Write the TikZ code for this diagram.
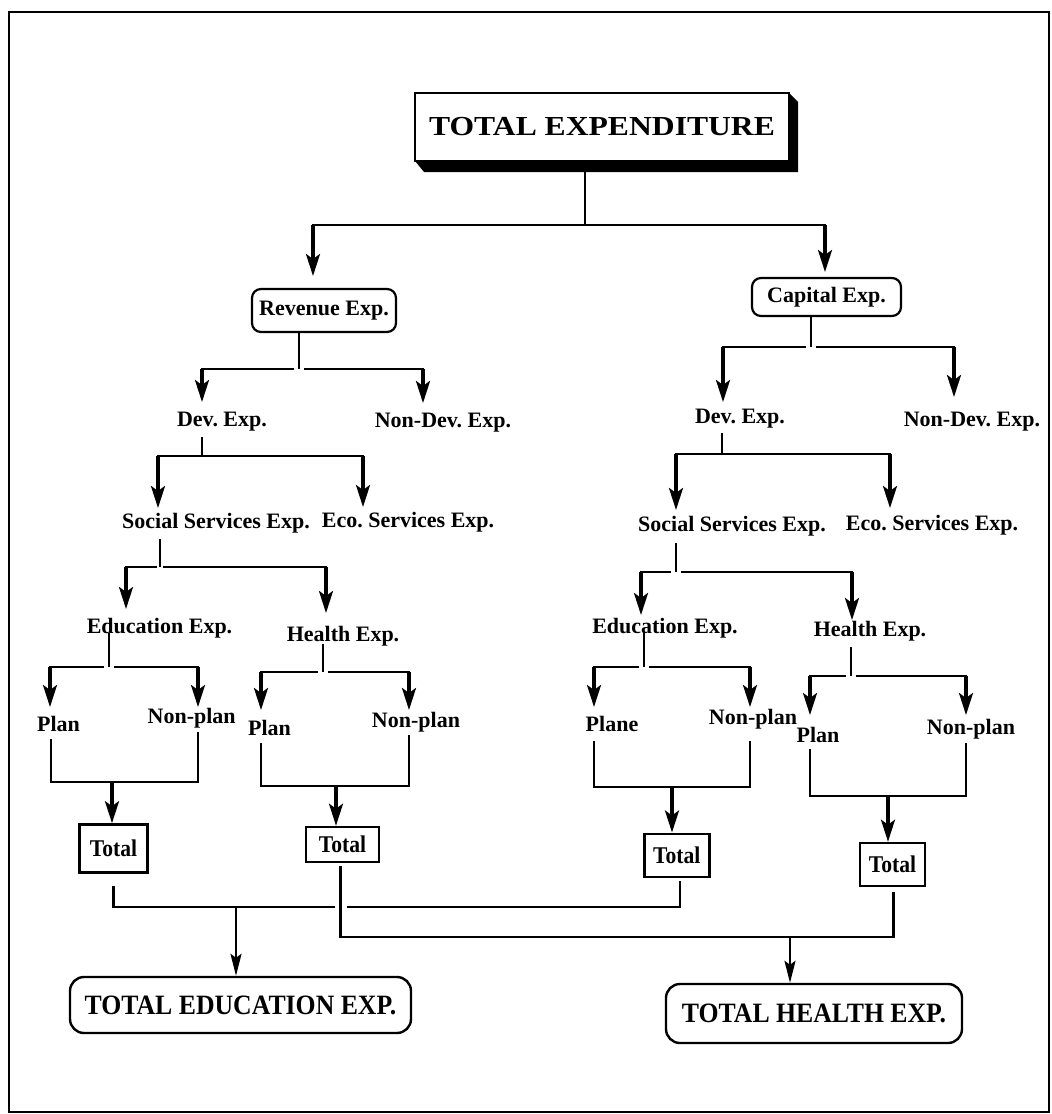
\documentclass[tikz,border=0pt]{standalone}
\usepackage{fontspec}
\setmainfont{Liberation Serif}
\usepackage{graphicx}
\usetikzlibrary{arrows.meta, calc}
\tikzset{
  tlab/.style   = {font=\fontsize{22}{25}\selectfont\bfseries, inner sep=0pt},
  rbox/.style   = {draw, rounded corners=9pt, line width=2.2pt, fill=white,
                   font=\fontsize{22}{25}\selectfont\bfseries, inner sep=0pt},
  totbox/.style = {draw, line width=2.6pt, font=\fontsize{24}{26}\selectfont\bfseries, inner sep=0pt},
  sumbox/.style = {draw, rounded corners=14pt, line width=2.4pt,
                   font=\fontsize{28}{30}\selectfont\bfseries, inner sep=0pt},
  thinln/.style = {line width=2.2pt},
  barln/.style  = {line width=2.4pt, line cap=rect},
  arrln/.style  = {-{Stealth[length=22pt, width=14pt, inset=5pt]}, line width=3.2pt},
  sumarr/.style = {-{Stealth[length=22pt, width=11pt, inset=4pt]}, line width=2.4pt},
}
% stem down to a bar, then two arrows: name, stem x, stem top, bar y, left x, left tip, right x, right tip, gap
\newcommand{\splitto}[9]{%
  \coordinate (#1s) at (#2,#3);
  \coordinate (#1j) at (#2,#4);
  \coordinate (#1l) at (#5,#4);
  \coordinate (#1r) at (#7,#4);
  \coordinate (#1lt) at (#5,#6);
  \coordinate (#1rt) at (#7,#8);
  \draw[thinln] (#1s) -- (#1j);
  \draw[barln] ($(#1j)+(-#9,0)$) -- (#1l);
  \draw[barln] ($(#1j)+(#9,0)$) -- (#1r);
  \draw[arrln] (#1l) -- (#1lt);
  \draw[arrln] (#1r) -- (#1rt);}
% plan + non-plan joined into one arrow: name, left x, left top, right x, right top, bar y, arrow x, target
\newcommand{\joinup}[8]{%
  \coordinate (#1a) at (#2,#3);
  \coordinate (#1b) at (#4,#5);
  \coordinate (#1m) at (#7,#6);
  \draw[thinln] (#1a) |- (#1m) -| (#1b);
  \draw[arrln] (#1m) -- (#1m |- #8.north);}
\frenchspacing

\begin{document}
\begin{tikzpicture}[x=1pt, y=-1pt]
  \useasboundingbox (0,0) rectangle (1052,1114);
  \draw[line width=2.4pt] (9,12) rectangle (1049,1112);

  % head box with its shadow
  \fill (415,161) -- (424,172) -- (798,172) -- (798,102) -- (789,93) -- cycle;
  \node[draw, fill=white, line width=2.6pt, minimum width=374pt, minimum height=68pt, inner sep=0pt]
    (texp) at (602,127) {\scalebox{1.15}[1]{\fontsize{27.5}{30}\selectfont\bfseries TOTAL EXPENDITURE}};

  \node[rbox, minimum width=144pt, minimum height=43pt] (rev) at (324,310.5) {Revenue Exp.};
  \node[rbox, minimum width=149pt, minimum height=38pt] (cap) at (826.5,297) {Capital Exp.};

  % revenue side
  \node[tlab] (devL)   at (222,422) {Dev. Exp.};
  \node[tlab] (ndevL)  at (443,423) {Non-Dev. Exp.};
  \node[tlab] (socL)   at (216,523) {Social Services Exp.};
  \node[tlab] (ecoL)   at (408,522) {Eco. Services Exp.};
  \node[tlab] (eduL)   at (159.5,628) {Education Exp.};
  \node[tlab] (hltL)   at (343,636) {Health Exp.};
  \node[tlab] (planA)  at (58.5,724) {Plan};
  \node[tlab] (nplanA) at (191.7,718) {Non-plan};
  \node[tlab] (planB)  at (269.5,728) {Plan};
  \node[tlab] (nplanB) at (416,722) {Non-plan};
  \node[totbox, minimum width=68pt, minimum height=48pt] (totA) at (113.5,848.5) {\scalebox{0.9}[1]{Total}};
  \node[totbox, minimum width=73pt, minimum height=35pt] (totB) at (342.5,844.5) {\scalebox{0.9}[1]{Total}};

  % capital side
  \node[tlab] (devR)   at (740,419) {Dev. Exp.};
  \node[tlab] (ndevR)  at (972,422) {Non-Dev. Exp.};
  \node[tlab] (socR)   at (732,526) {Social Services Exp.};
  \node[tlab] (ecoR)   at (932,525) {Eco. Services Exp.};
  \node[tlab] (eduR)   at (665,628) {Education Exp.};
  \node[tlab] (hltR)   at (870,631) {Health Exp.};
  \node[tlab] (planC)  at (612,724) {Plane};
  \node[tlab] (nplanC) at (753,719) {Non-plan};
  \node[tlab] (planD)  at (818,735) {Plan};
  \node[tlab] (nplanD) at (971,729) {Non-plan};
  \node[totbox, minimum width=65pt, minimum height=43pt] (totC) at (676.7,855.3) {\scalebox{0.9}[1]{Total}};
  \node[totbox, minimum width=65pt, minimum height=43pt] (totD) at (892.5,864.5) {\scalebox{0.9}[1]{Total}};

  \node[sumbox, minimum width=341pt, minimum height=56pt] (sumedu) at (240.5,1005)
    {\scalebox{0.92}[1]{TOTAL EDUCATION EXP.}};
  \node[sumbox, minimum width=296pt, minimum height=59pt] (sumhlt) at (814,1013.5)
    {\scalebox{0.92}[1]{TOTAL HEALTH EXP.}};

  % splits
  \splitto{top}{585}{172}{225}{313}{276}{825}{272}{0}
  \splitto{rv}{299}{332}{369}{202}{402}{423}{403}{6.5}
  \splitto{cp}{811}{316}{347}{723}{402}{954}{397}{6}
  \splitto{dvl}{202}{437}{456}{158}{508}{363}{507}{0}
  \splitto{dvr}{722}{433}{454}{676}{510}{890}{508}{0}
  \splitto{scl}{160}{539}{567}{126}{609}{326}{613}{4}
  \splitto{scr}{676}{543}{572}{641}{615}{852}{620}{6}
  \splitto{edl}{109}{633}{667}{50}{707}{198}{707}{6}
  \splitto{hll}{323}{644}{672}{261}{710}{409}{710}{6}
  \splitto{edr}{644}{633}{667}{594}{707}{750}{707}{6}
  \splitto{hlr}{851}{647}{676}{810}{715}{966}{715}{6}

  % plan / non-plan into totals
  \joinup{ja}{51}{739}{198}{732}{782}{112}{totA}
  \joinup{jb}{261}{743}{409}{735}{786}{336}{totB}
  \joinup{jc}{594}{741}{750}{741}{787}{672}{totC}
  \joinup{jd}{810}{749}{966}{743}{796}{888}{totD}

  % totals into the two sums
  \coordinate (eduj) at (236,907);
  \coordinate (hltj) at (790,937);
  \draw[thinln] ($(totA.south)+(0,12)$) |- (335,907);
  \draw[thinln] (347,907) -| ($(totC.south)+(3,3)$);
  \draw[thinln] ($(totB.south)+(-2,3)$) |- (hltj) -| ($(totD.south)+(1,5)$);
  \draw[sumarr] (eduj) -- (eduj |- sumedu.north);
  \draw[sumarr] (hltj) -- (hltj |- sumhlt.north);
\end{tikzpicture}
\end{document}
